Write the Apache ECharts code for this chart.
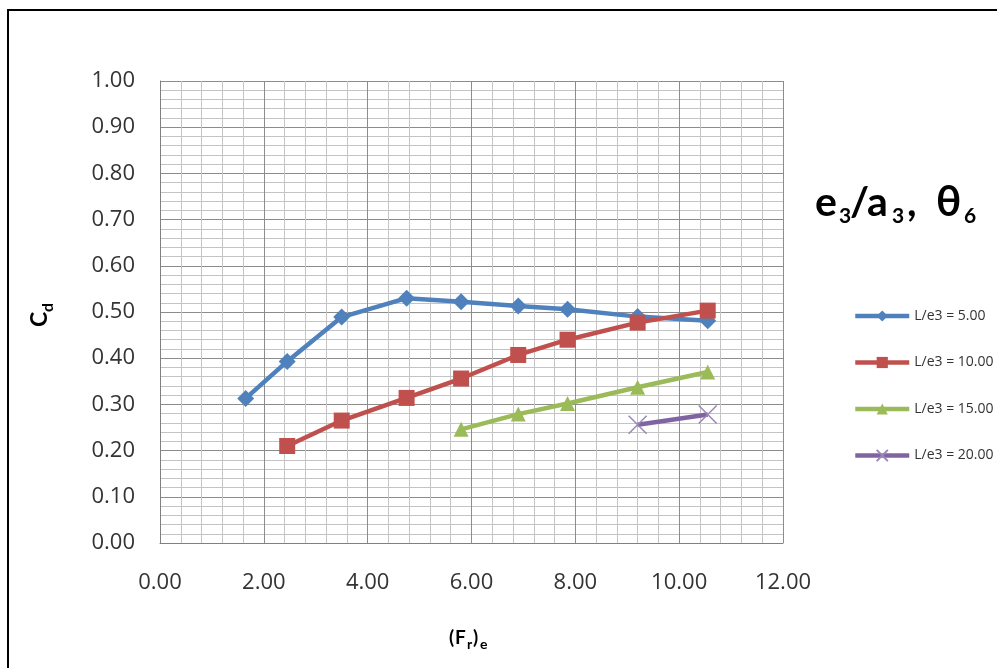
<!DOCTYPE html>
<html><head><meta charset="utf-8">
<script src="https://cdn.jsdelivr.net/npm/echarts@6/dist/echarts.min.js"></script>
<style>html,body{margin:0;padding:0;background:#fff}#c{width:997px;height:668px}</style>
</head><body><div id="c"></div>
<script>
const xTicks = [0, 2, 4, 6, 8, 10, 12];
const frX = [1.65, 2.45, 3.5, 4.75, 5.8, 6.9, 7.85, 9.2, 10.55];
const seriesNames = ['L/e3 = 5.00', 'L/e3 = 10.00', 'L/e3 = 15.00', 'L/e3 = 20.00'];
const cd5 = [0.313, 0.393, 0.489, 0.530, 0.522, 0.513, 0.506, 0.490, 0.481];
const cd10 = [null, 0.210, 0.265, 0.314, 0.356, 0.407, 0.440, 0.477, 0.503];
const cd15 = [null, null, null, null, 0.246, 0.279, 0.302, 0.337, 0.370];
const cd20 = [null, null, null, null, null, null, null, 0.256, 0.278];

const colors = ['#4F81BD', '#C0504D', '#9BBB59', '#8064A2'];
const symbols = ['diamond', 'rect', 'triangle', 'path://M0,0L10,10M10,0L0,10'];
const symSizes = [17, 16, 15, 18];
const allData = [cd5, cd10, cd15, cd20];

function pairs(ys) {
  const out = [];
  ys.forEach((y, i) => { if (y !== null) out.push([frX[i], y]); });
  return out;
}

const FONT = '"Open Sans", Lato, sans-serif';
const TFONT = 'Lato, "Open Sans", sans-serif';
const chart = echarts.init(document.getElementById('c'));
const series = allData.map((d, i) => ({
  name: seriesNames[i],
  type: 'line',
  data: pairs(d),
  symbol: symbols[i],
  symbolSize: symSizes[i],
  showAllSymbol: true,
  lineStyle: { color: colors[i], width: 4.5 },
  itemStyle: i === 3 ? { color: 'rgba(0,0,0,0)', borderColor: '#9a86b8', borderWidth: 1.5 } : { color: colors[i] },
  emphasis: { disabled: true },
  z: 3 + i
}));

function t(text, x, y, size, bold) {
  return { type: 'text', x: x, y: y, silent: true,
    style: { text: text, font: (bold ? 'bold ' : '') + size + 'px ' + TFONT, fill: '#000', textVerticalAlign: 'bottom' } };
}

chart.setOption({
  animation: false,
  backgroundColor: '#fff',
  grid: { left: 160, right: 214, top: 81, bottom: 125, containLabel: false },
  xAxis: {
    type: 'value', min: 0, max: 12, interval: 2,
    axisLine: { show: true, lineStyle: { color: '#808080', width: 1 } },
    axisTick: { show: false },
    axisLabel: { formatter: v => v.toFixed(2), color: '#333', fontSize: 22, fontFamily: FONT, margin: 29 },
    splitLine: { show: true, lineStyle: { color: '#8c8c8c', width: 1 } },
    minorTick: { show: false, splitNumber: 5 },
    minorSplitLine: { show: true, lineStyle: { color: '#c4c4c4', width: 1 } }
  },
  yAxis: {
    type: 'value', min: 0, max: 1, interval: 0.1,
    axisLine: { show: true, lineStyle: { color: '#808080', width: 1 } },
    axisTick: { show: false },
    axisLabel: { formatter: v => v.toFixed(2), color: '#333', fontSize: 22, fontFamily: FONT, margin: 25 },
    splitLine: { show: true, lineStyle: { color: '#8c8c8c', width: 1 } },
    minorTick: { show: false, splitNumber: 5 },
    minorSplitLine: { show: true, lineStyle: { color: '#c4c4c4', width: 1 } }
  },
  legend: {
    orient: 'vertical', left: 848, top: 304, itemGap: 32.5,
    itemWidth: 54, itemHeight: 14,
    lineStyle: { width: 4.5 },
    textStyle: { fontSize: 14, color: '#333', fontFamily: FONT },
    data: seriesNames
  },
  series: series,
  graphic: [
    { type: 'rect', silent: true, shape: { x: 8, y: 10, width: 1100, height: 800 }, style: { fill: 'none', stroke: '#000', lineWidth: 2 } },
    t('e', 815, 223, 41, true),
    t('3', 839, 227, 21, true),
    t('/', 850, 223, 41, true),
    t('a', 867, 223, 41, true),
    t('3', 892, 227, 21, true),
    t(',', 907, 223, 41, true),
    t('θ', 936, 223, 42, true),
    t('6', 964, 227, 21, true),
    { type: 'group', x: 51, y: 327, rotation: Math.PI / 2, silent: true, children: [
      { type: 'text', x: 0, y: 0, style: { text: 'C', font: 'bold 23px ' + TFONT, fill: '#000', textVerticalAlign: 'bottom' } },
      { type: 'text', x: 15, y: 5, style: { text: 'd', font: 'bold 16px ' + TFONT, fill: '#000', textVerticalAlign: 'bottom' } }
    ] },
    t('(', 449, 647, 19, true),
    t('F', 455, 647, 19, true),
    t('r', 467, 651, 14, true),
    t(')', 473, 647, 19, true),
    t('e', 480, 651, 14, true)
  ]
});
</script></body></html>
